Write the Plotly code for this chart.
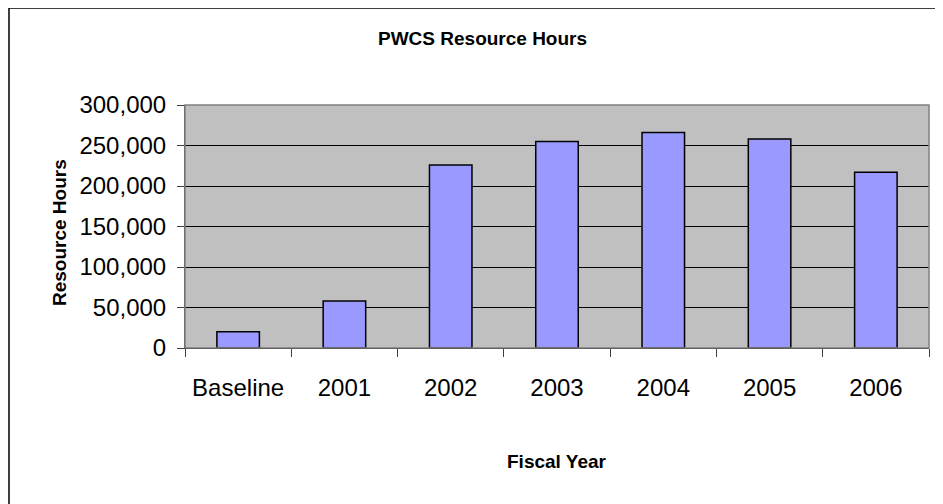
import plotly.graph_objects as go

categories = ["Baseline", "2001", "2002", "2003", "2004", "2005", "2006"]
resource_hours = [20000, 58000, 226000, 255000, 266000, 258000, 217000]
y_tick_values = [0, 50000, 100000, 150000, 200000, 250000, 300000]
y_tick_labels = ["0", "50,000", "100,000", "150,000", "200,000", "250,000", "300,000"]

OFF = 8  # default page body margin
W, H = 943 - OFF, 504 - OFF
L, T = 185 - OFF, 105 - OFF
pw, ph = 744, 243
R = W - L - pw
B = H - T - ph

def px(x):
    """page x -> paper x"""
    return (x - OFF - L) / pw

def py(y):
    """page y -> paper y"""
    return (T + ph - (y - OFF)) / ph

FONT = "Liberation Sans, Arial, sans-serif"

fig = go.Figure()
fig.add_trace(go.Bar(
    x=categories, y=resource_hours,
    marker=dict(color="#9999FF", line=dict(color="black", width=1.5)),
    width=0.4,
))

fig.update_layout(
    width=W, height=H,
    margin=dict(l=L, r=R, t=T, b=B),
    paper_bgcolor="white",
    plot_bgcolor="#C0C0C0",
    showlegend=False,
    bargap=0.6,
    font=dict(family=FONT, color="black"),
)

fig.update_xaxes(
    type="category",
    tickson="boundaries",
    ticks="outside", ticklen=8, tickcolor="#404040", tickwidth=1,
    showline=True, linecolor="black", linewidth=1,
    showgrid=False,
    tickfont=dict(size=24, family=FONT),
    ticklabelstandoff=18,
)
fig.update_yaxes(
    range=[0, 300000],
    tickvals=y_tick_values, ticktext=y_tick_labels,
    ticks="outside", ticklen=7, tickcolor="#404040", tickwidth=1,
    showline=True, linecolor="#404040", linewidth=1,
    showgrid=True, gridcolor="black", gridwidth=1,
    zeroline=False,
    tickfont=dict(size=24, family=FONT),
    ticklabelstandoff=6,
)

shapes = [
    dict(type="rect", xref="paper", yref="paper", x0=0, x1=1, y0=0, y1=1,
         line=dict(color="#808080", width=1.5), layer="above"),
    dict(type="rect", xref="paper", yref="paper",
         x0=px(9), x1=px(942), y0=py(530), y1=py(8),
         line=dict(color="black", width=1.5)),
]
fig.update_layout(shapes=shapes)

annotations = [
    dict(text="<b>PWCS Resource Hours</b>", x=px(482), y=py(39),
         xref="paper", yref="paper", showarrow=False,
         font=dict(size=19, family=FONT), xanchor="center", yanchor="middle"),
    dict(text="<b>Fiscal Year</b>", x=px(557), y=py(462),
         xref="paper", yref="paper", showarrow=False,
         font=dict(size=19, family=FONT), xanchor="center", yanchor="middle"),
    dict(text="<b>Resource Hours</b>", x=px(59), y=py(233),
         xref="paper", yref="paper", showarrow=False, textangle=-90,
         font=dict(size=19, family=FONT), xanchor="center", yanchor="middle"),
]
fig.update_layout(annotations=annotations)

fig.write_html("out.html")
